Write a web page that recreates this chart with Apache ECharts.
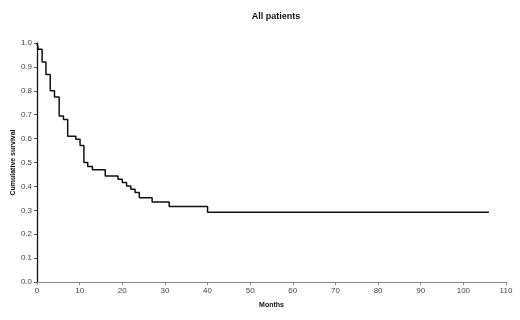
<!DOCTYPE html>
<html>
<head>
<meta charset="utf-8">
<script src="https://cdn.jsdelivr.net/npm/echarts@6/dist/echarts.min.js"></script>
<style>
  html, body { margin: 0; padding: 0; background: #fff; }
  #chart { width: 520px; height: 320px; }
</style>
</head>
<body>
<div id="chart"></div>
<script>
// survival steps: [month, cumulative survival]
const months = [0, 0.3, 1.2, 2.1, 3.1, 4.1, 5.2, 6.2, 7.2, 9.1, 10.1, 11, 11.9, 13, 16, 19, 20, 21, 22, 23, 24, 27, 31, 40, 106]
const survival = [1.0, 0.974, 0.921, 0.868, 0.80, 0.774, 0.695, 0.68, 0.61, 0.597, 0.571, 0.50, 0.483, 0.47, 0.444, 0.43, 0.416, 0.402, 0.388, 0.375, 0.352, 0.335, 0.316, 0.292, 0.292]

const font = 'Liberation Sans, Arial, sans-serif'
const chart = echarts.init(document.getElementById('chart'))
chart.setOption({
  animation: false,
  title: {
    text: 'All patients',
    left: 271,
    textAlign: 'center',
    top: 7,
    textStyle: { fontFamily: font, fontSize: 9, fontWeight: 'bold', color: '#111' }
  },
  grid: { left: 37, right: 14, top: 43, bottom: 38, outerBoundsMode: 'none' },
  xAxis: {
    type: 'value',
    min: 0,
    max: 110,
    interval: 10,
    name: 'Months',
    nameLocation: 'middle',
    nameGap: 20,
    nameMoveOverlap: false,
    nameTextStyle: { fontFamily: font, fontSize: 7, fontWeight: 'bold', color: '#111' },
    splitLine: { show: false },
    axisLine: { lineStyle: { color: '#888', width: 1 } },
    axisTick: { show: true, length: 3, lineStyle: { color: '#888' } },
    axisLabel: { fontFamily: font, fontSize: 8, color: '#444', margin: 5 }
  },
  yAxis: {
    type: 'value',
    min: 0,
    max: 1,
    interval: 0.1,
    name: 'Cumulative survival',
    nameLocation: 'middle',
    nameGap: 20,
    nameMoveOverlap: false,
    nameTextStyle: { fontFamily: font, fontSize: 7, fontWeight: 'bold', color: '#111' },
    splitLine: { show: false },
    axisLine: { show: true, lineStyle: { color: '#111', width: 1.3 } },
    axisTick: { show: true, length: 3, lineStyle: { color: '#555' } },
    axisLabel: {
      fontFamily: font, fontSize: 8, color: '#444', margin: 5,
      formatter: function (v) { return v.toFixed(1) }
    }
  },
  series: [
    {
      type: 'line',
      step: 'end',
      symbol: 'none',
      data: months.map((m, i) => [m, survival[i]]),
      lineStyle: { color: '#111', width: 1.5 }
    }
  ]
})
</script>
</body>
</html>
